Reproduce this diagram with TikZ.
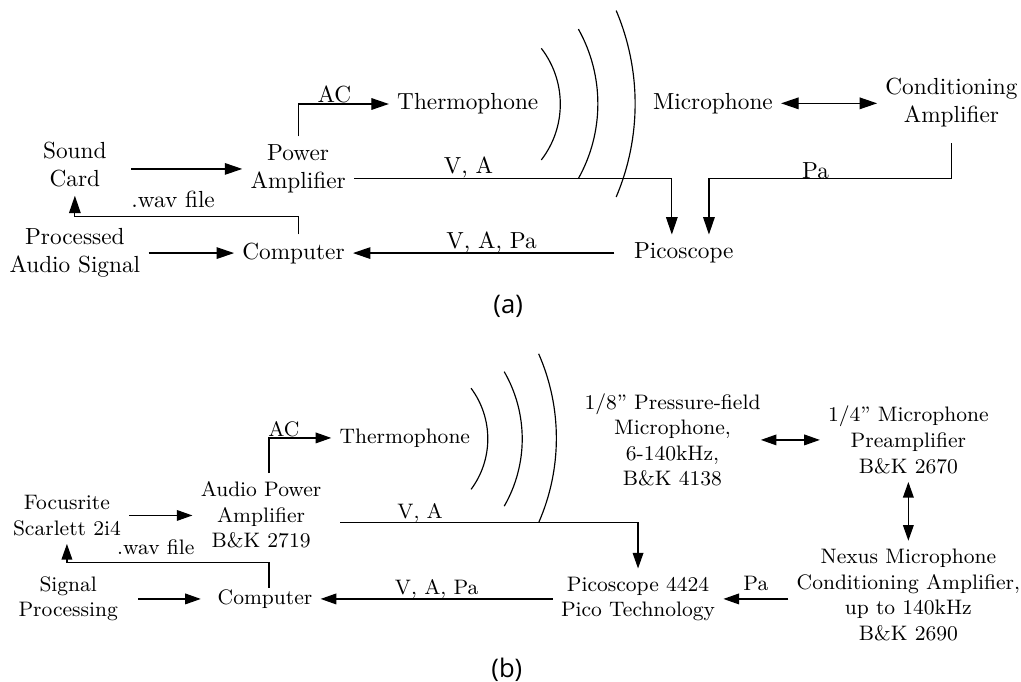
\documentclass[tikz,border=0pt]{standalone}
\usepackage{fontspec}
\newfontfamily\capfont{Open Sans}
\usetikzlibrary{arrows.meta}

\begin{document}
\begin{tikzpicture}[line width=0.5pt,
        every node/.style={align=center},
        arr/.style={-{Triangle[length=7.5pt,width=5pt]}},
        dblarr/.style={{Triangle[length=7.5pt,width=5pt]}-{Triangle[length=7.5pt,width=5pt]}},
        lbl/.style={above,inner sep=0pt},
        subcap/.style={font=\capfont\fontsize{11}{13}\selectfont}]
    \useasboundingbox (0,0) rectangle (15.41,10.29);

    % (a) first setup
    \node (card) at (1.13,7.80) [minimum width=1.69cm] {Sound\\Card};
    \node (proc) at (1.13,6.47) {Processed\\Audio Signal};
    \node (pamp) at (4.50,7.74) {Power\\Amplifier};
    \node (comp) at (4.43,6.47) {Computer};
    \node (thermo) at (7.06,8.72) {Thermophone};
    \node (mic) at (10.76,8.73) {Microphone};
    \node (cond) at (14.36,8.74) {Conditioning\\Amplifier};
    \node (scope) at (10.32,6.47) {Picoscope};
    \coordinate (va) at ([yshift=-0.15cm]pamp.east);

    \draw[arr] (pamp.west -| card.east) -- (pamp.west);
    \draw[arr] (proc.east) -- (comp.west);
    \draw[arr] (pamp.north) |- (thermo.west) node[lbl,pos=0.7]{AC};
    \draw[arr] (va) -| ([xshift=-0.18cm]scope.north) node[lbl,pos=0.18]{V, A};
    \draw[arr] ([yshift=-0.12cm]cond.south) |- ([xshift=0.38cm]scope.north |- va) node[lbl,pos=0.78]{Pa}
        -- ([xshift=0.38cm]scope.north);
    \draw[arr] (pamp |- comp.north) -- ++(0,0.27) -| (card.south) node[above,pos=0.28]{.wav file};
    \draw[arr] ([xshift=-0.17cm]scope.west) -- (comp.east) node[lbl,pos=0.47]{V, A, Pa};
    \draw[dblarr] (mic.east) -- (mic.east -| cond.west);

    % sound waves
    \draw (8.17,9.56) arc (37.6:-37.6:1.38);
    \draw (8.73,9.85) arc (29.2:-29.2:2.31);
    \draw (9.30,10.13) arc (23:-23:3.60);

    \node[subcap] (capa) at (7.67,5.67) {(a)};

    % (b) final setup, B&K hardware
    \begin{scope}[font=\small,
            arr/.style={-{Triangle[length=6.7pt,width=4.6pt]}},
            dblarr/.style={{Triangle[length=6.7pt,width=4.6pt]}-{Triangle[length=6.7pt,width=4.6pt]}}]
        \node (focus) at (1.01,2.51) {Focusrite\\Scarlett 2i4};
        \node (sig) at (1.03,1.25) {Signal\\Processing};
        \node (apamp) at (3.94,2.52) {Audio Power\\Amplifier\\B\&K 2719};
        \node (comp2) at (4.00,1.25) {Computer};
        \node (therm2) at (6.11,3.68) {Thermophone};
        \node (mic2) at (10.15,3.65) {1/8'' Pressure-field\\Microphone,\\6-140kHz,\\B\&K 4138};
        \node (preamp) at (13.71,3.65) {1/4'' Microphone\\Preamplifier\\B\&K 2670};
        \node (nexus) at (13.71,1.31) {Nexus Microphone\\Conditioning Amplifier,\\up to 140kHz\\B\&K 2690};
        \node (scope2) at (9.63,1.25) {Picoscope 4424\\Pico Technology};
        \coordinate (tap) at ([xshift=0.12cm]apamp.north);
        \coordinate (va2) at ([xshift=0.16cm,yshift=-0.12cm]apamp.east);

        \draw[arr] (focus.east) -- (focus.east -| apamp.west);
        \draw[arr] ([xshift=0.18cm]sig.east) -- ([xshift=-0.13cm]comp2.west);
        \draw[arr] (tap) |- (therm2.west) node[lbl,pos=0.62]{AC};
        \draw[arr] (va2) -| (scope2.north) node[lbl,pos=0.134]{V, A};
        \draw[arr] ([yshift=-0.1cm]tap |- comp2.north) -- ++(0,0.38) -| (focus.south) node[above,pos=0.28]{.wav file};
        \draw[arr] (scope2.west) -- (comp2.east) node[lbl,midway]{V, A, Pa};
        \draw[arr] (nexus.west |- scope2.east) -- (scope2.east) node[above,midway]{Pa};
        \draw[dblarr] ([xshift=-0.12cm]mic2.east) -- (preamp.west);
        \draw[dblarr] (preamp.south) -- (nexus.north);

        % sound waves
        \draw (7.11,4.43) arc (36.6:-36.6:1.28);
        \draw (7.61,4.68) arc (30:-30:2.03);
        \draw (8.13,4.95) arc (23.7:-23.7:3.17);
    \end{scope}

    \node[subcap] (capb) at (7.65,0.18) {(b)};
\end{tikzpicture}
\end{document}
